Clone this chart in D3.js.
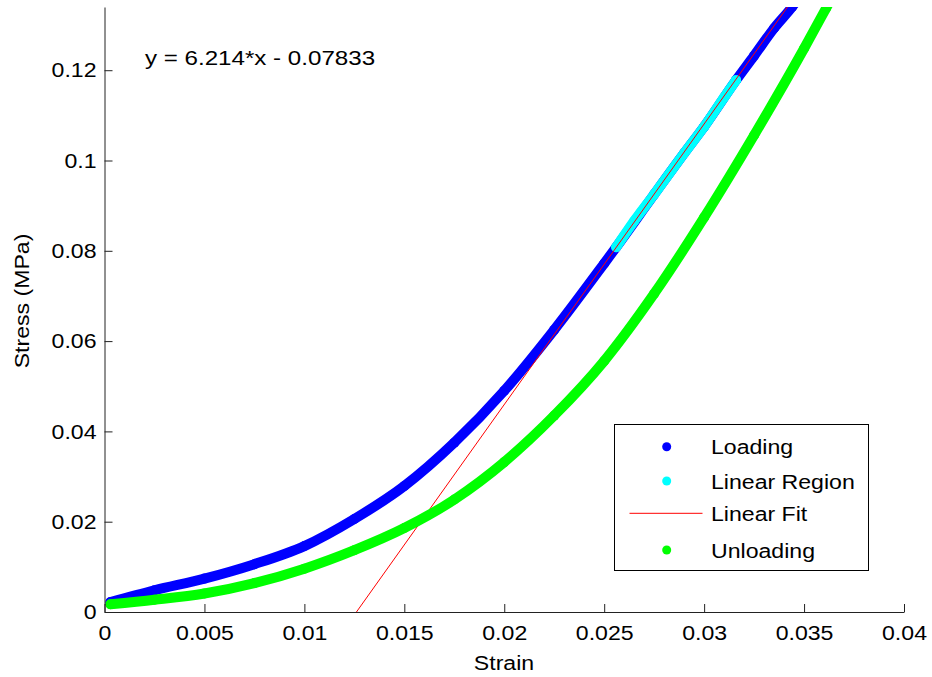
<!DOCTYPE html>
<html>
<head>
<meta charset="utf-8">
<script src="https://cdn.jsdelivr.net/npm/d3@7/dist/d3.min.js"></script>
<style>
  html, body { margin: 0; padding: 0; background: #fff; }
  svg { display: block; }
  text { font-family: "Liberation Sans", Arial, Helvetica, sans-serif; fill: #000; }
</style>
</head>
<body>
<svg id="chart" width="932" height="677"></svg>
<script>
// Loading branch (strain, stress in MPa)
const loadStrain = [0.0003, 0.0025, 0.005, 0.0075, 0.01, 0.0125, 0.015, 0.0175, 0.02, 0.0225,
                    0.025, 0.0256, 0.0275, 0.029, 0.03, 0.0316, 0.0325, 0.0335, 0.0344, 0.0352];
const loadStress = [0.0022, 0.0048, 0.0074, 0.0106, 0.0146, 0.0206, 0.0279, 0.0375, 0.0490, 0.0625,
                    0.0772, 0.0808, 0.0925, 0.1016, 0.1075, 0.1178, 0.1232, 0.1293, 0.1340, 0.1390];

// Points selected as the linear region of the loading branch
const linStrain = [0.0256, 0.0265, 0.0275, 0.029, 0.03, 0.031, 0.0316];
const linStress = [0.0808, 0.0866, 0.0925, 0.1016, 0.1075, 0.1140, 0.1178];

// Unloading branch
const unloadStrain = [0.0003, 0.0025, 0.005, 0.0075, 0.01, 0.0125, 0.015, 0.0175, 0.02, 0.0225,
                      0.025, 0.0275, 0.03, 0.0325, 0.035, 0.0361, 0.037];
const unloadStress = [0.0017, 0.0027, 0.0041, 0.0064, 0.0096, 0.0137, 0.0186, 0.0249, 0.0332, 0.0435,
                      0.0556, 0.0705, 0.0874, 0.1056, 0.1248, 0.1337, 0.1410];

// Linear fit of the linear region: stress = slope * strain + intercept
const fitSlope = 6.214;
const fitIntercept = -0.07833;
const fitEndStrain = 0.0352;

const xTicks = [0, 0.005, 0.01, 0.015, 0.02, 0.025, 0.03, 0.035, 0.04];
const yTicks = [0, 0.02, 0.04, 0.06, 0.08, 0.1, 0.12];
const legendLabels = ["Loading", "Linear Region", "Linear Fit", "Unloading"];

const FONT = 21, WIDEN = 1.1;
const svg = d3.select("#chart");

const x = d3.scaleLinear().domain([0, 0.04]).range([104.5, 904]);
const y = d3.scaleLinear().domain([0, 0.134]).range([612, 7]);

const fmt = d => d === 0 ? "0" : String(+d.toFixed(4));

function widenTicks(sel) {
  sel.selectAll(".tick text").each(function () {
    const t = d3.select(this);
    const tx = +t.attr("x") || 0, ty = +t.attr("y") || 0;
    t.attr("x", 0).attr("y", 0)
     .attr("transform", `translate(${tx},${ty}) scale(${WIDEN},1)`);
  });
}

function label(str, px, py, anchor, rot, widen) {
  svg.append("text")
    .attr("transform", `translate(${px},${py}) rotate(${rot || 0}) scale(${widen || WIDEN},1)`)
    .attr("text-anchor", anchor)
    .attr("font-size", FONT)
    .text(str);
}

// clip to plot area
svg.append("defs").append("clipPath").attr("id", "plotClip")
  .append("rect").attr("x", 104.5).attr("y", 7).attr("width", 800).attr("height", 605);

const plot = svg.append("g").attr("clip-path", "url(#plotClip)");

const line = d3.line().x(d => x(d[0])).y(d => y(d[1])).curve(d3.curveMonotoneX);
const zip = (a, b) => a.map((v, i) => [v, b[i]]);

function markerBand(pts, color) {
  plot.append("path").datum(pts)
    .attr("d", line).attr("fill", "none").attr("stroke", color)
    .attr("stroke-width", 10).attr("stroke-linecap", "round").attr("stroke-linejoin", "round");
  plot.append("g").selectAll("circle").data(pts).join("circle")
    .attr("cx", d => x(d[0])).attr("cy", d => y(d[1])).attr("r", 5).attr("fill", color);
}

markerBand(zip(loadStrain, loadStress), "#0000ff");
markerBand(zip(linStrain, linStress), "#00ffff");

// fitted line from its zero crossing to the end of loading
const fitStart = -fitIntercept / fitSlope;
const fitPts = [fitStart, fitEndStrain].map(s => [s, fitSlope * s + fitIntercept]);
plot.append("path").datum(fitPts)
  .attr("d", d3.line().x(d => x(d[0])).y(d => y(d[1])))
  .attr("fill", "none").attr("stroke", "#ff0000").attr("stroke-width", 1);

markerBand(zip(unloadStrain, unloadStress), "#00ff00");

// axes (ticks point inward)
const gx = svg.append("g").attr("transform", "translate(0,612)")
  .call(d3.axisBottom(x).tickValues(xTicks).tickFormat(fmt).tickSizeInner(-8).tickSizeOuter(0).tickPadding(13));
const gy = svg.append("g").attr("transform", "translate(104.5,0)")
  .call(d3.axisLeft(y).tickValues(yTicks).tickFormat(fmt).tickSizeInner(-8).tickSizeOuter(0).tickPadding(8));
[gx, gy].forEach(g => {
  g.selectAll("path, line").attr("stroke", "#222").attr("stroke-width", 1);
  g.selectAll("text").attr("font-size", FONT).attr("font-family", null).attr("fill", "#000");
  widenTicks(g);
});

// axis titles
label("Strain", 504, 670, "middle");
label("Stress (MPa)", 29, 301, "middle", -90);

// fit equation
label(`y = ${fitSlope}*x - ${Math.abs(fitIntercept)}`, 145, 65, "start", 0, 1.15);

// legend
const lg = svg.append("g");
lg.append("rect").attr("x", 614.5).attr("y", 424.5).attr("width", 254).attr("height", 146)
  .attr("fill", "#fff").attr("stroke", "#000").attr("stroke-width", 1);
const rows = [446.7, 481, 513.3, 550];
const legendColors = ["#0000ff", "#00ffff", "#ff0000", "#00ff00"];
legendLabels.forEach((name, i) => {
  if (i === 2) {
    lg.append("line").attr("x1", 629.5).attr("x2", 702.5).attr("y1", rows[i]).attr("y2", rows[i])
      .attr("stroke", legendColors[i]).attr("stroke-width", 1);
  } else {
    lg.append("circle").attr("cx", 666.7).attr("cy", rows[i]).attr("r", 4.5).attr("fill", legendColors[i]);
  }
  label(name, 711, rows[i] + 7.5, "start");
});
</script>
</body>
</html>
